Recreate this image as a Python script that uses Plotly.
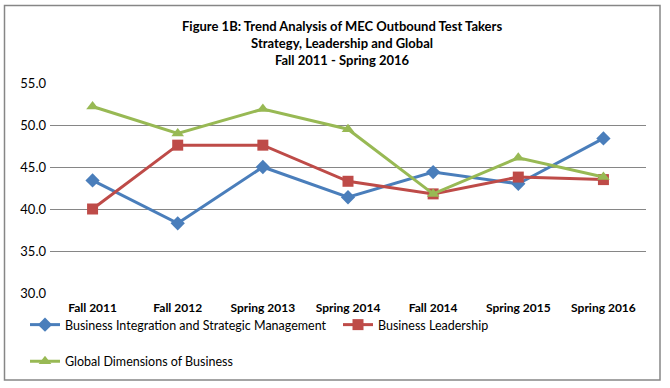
import plotly.graph_objects as go

categories = ["Fall 2011", "Fall 2012", "Spring 2013", "Spring 2014", "Fall 2014", "Spring 2015", "Spring 2016"]
strategic = [43.4, 38.3, 45.0, 41.4, 44.4, 43.0, 48.4]
leadership = [40.0, 47.6, 47.6, 43.3, 41.8, 43.8, 43.5]
global_dim = [52.2, 49.0, 51.9, 49.5, 41.8, 46.1, 43.8]
y_ticks = [30.0, 35.0, 40.0, 45.0, 50.0, 55.0]

FONT = "Lato"
W, H = 670, 388
L, R, T, B = 50, 24, 83, 95
pw, ph = W - L - R, H - T - B

def px_x(x):
    return (x - L) / pw

def px_y(y):
    return (H - B - y) / ph

fig = go.Figure()
fig.add_trace(go.Scatter(x=categories, y=strategic, mode="lines+markers",
                         name="Business Integration and Strategic Management",
                         line=dict(color="#4A7EBB", width=3),
                         marker=dict(symbol="diamond", size=11, color="#4A7EBB"),
                         legend="legend"))
fig.add_trace(go.Scatter(x=categories, y=leadership, mode="lines+markers",
                         name="Business Leadership",
                         line=dict(color="#BE4B48", width=3),
                         marker=dict(symbol="square", size=11, color="#BE4B48"),
                         legend="legend"))
fig.add_trace(go.Scatter(x=categories, y=global_dim, mode="lines+markers",
                         name="Global Dimensions of Business",
                         line=dict(color="#98B954", width=3),
                         marker=dict(symbol="triangle-up", size=11, color="#98B954"),
                         legend="legend2"))

fig.update_layout(
    width=W, height=H,
    margin=dict(l=L, r=R, t=T, b=B),
    paper_bgcolor="white", plot_bgcolor="white",
    font=dict(family=FONT, size=12, color="#000000"),
    showlegend=True,
    legend=dict(orientation="h", x=px_x(25), y=px_y(325), xanchor="left", yanchor="middle",
                entrywidth=268, entrywidthmode="pixels",
                font=dict(family=FONT, size=12.5), bgcolor="rgba(0,0,0,0)"),
    legend2=dict(orientation="h", x=px_x(25), y=px_y(361.5), xanchor="left", yanchor="middle",
                 font=dict(family=FONT, size=12.5), bgcolor="rgba(0,0,0,0)"),
    xaxis=dict(type="category", showgrid=False, showline=False, zeroline=False,
               tickfont=dict(family=FONT, size=12, color="#000000", weight="bold"),
               ticks="", ticklabelstandoff=6, range=[-0.5, 6.5]),
    yaxis=dict(range=[30, 55], tickvals=y_ticks, tickformat=".1f",
               showgrid=True, gridcolor="#868686", gridwidth=1,
               showline=False, zeroline=False, ticks="", ticklabelstandoff=3,
               tickfont=dict(family=FONT, size=13, color="#000000")),
)

fig.add_annotation(text="<b>Figure 1B: Trend Analysis of MEC Outbound Test Takers<br>Strategy, Leadership and Global<br>Fall 2011 - Spring 2016</b>",
                   xref="paper", yref="paper", x=px_x(342), y=px_y(16), xanchor="center", yanchor="top",
                   showarrow=False, font=dict(family=FONT, size=13, color="#000000"))

fig.add_shape(type="rect", xref="paper", yref="paper",
              x0=px_x(4.5), x1=px_x(660), y0=px_y(380), y1=px_y(5.5),
              line=dict(color="#868686", width=1.5), fillcolor="rgba(0,0,0,0)", layer="below")

fig.write_html("out.html", config={"displayModeBar": False},
               post_script="document.body.style.margin='0';")
